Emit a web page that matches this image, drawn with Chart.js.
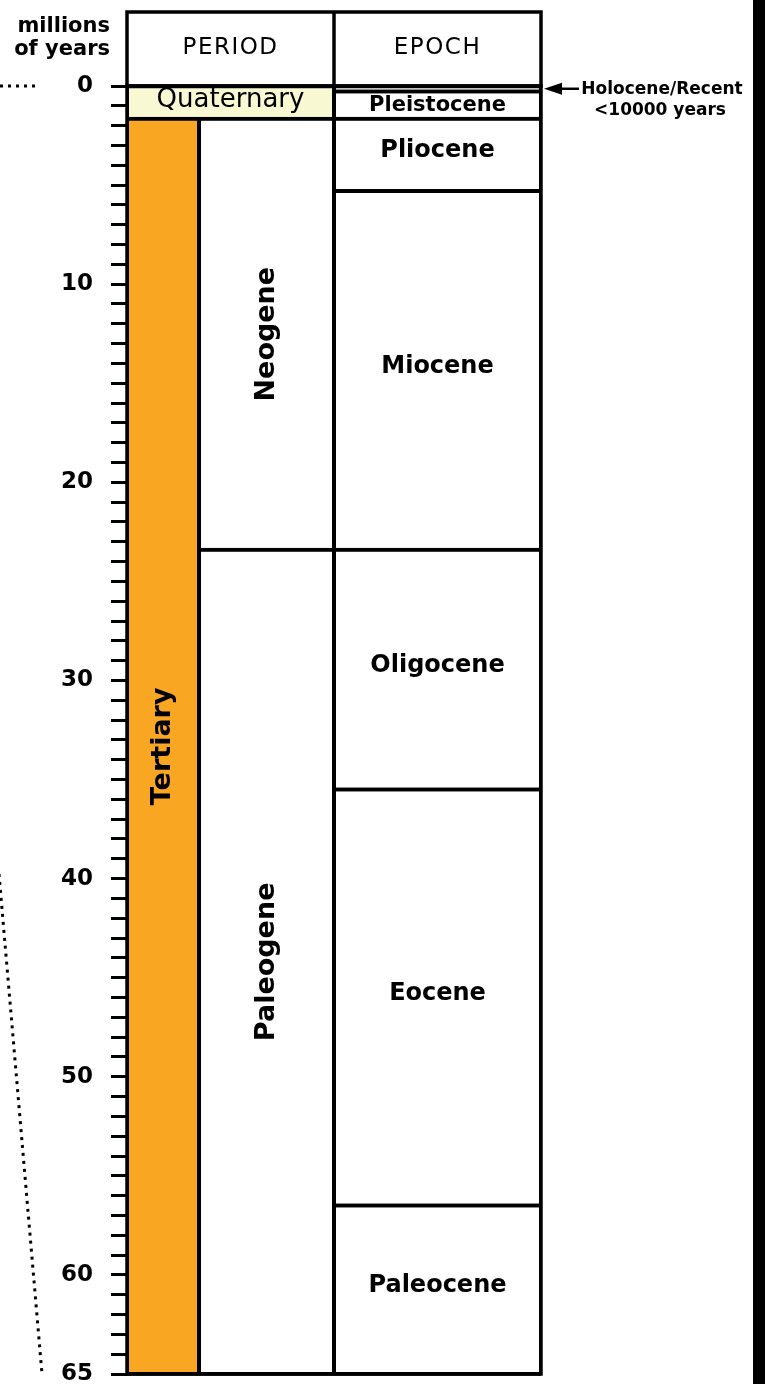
<!DOCTYPE html>
<html>
<head>
<meta charset="utf-8">
<title>Cenozoic time scale</title>
<script src="https://cdn.jsdelivr.net/npm/chart.js@4.4.1/dist/chart.umd.min.js"></script>
<style>
  html, body { margin: 0; padding: 0; background: #fff; }
  #timeChart { display: block; }
</style>
</head>
<body>
<canvas id="timeChart" width="765" height="1384"></canvas>
<script>
// ages in millions of years before present

const periodNames = ["Quaternary", "Tertiary"];
const periodStart = [0, 1.65];
const periodEnd = [1.65, 65];

const subPeriodNames = ["Quaternary", "Neogene", "Paleogene"];
const subPeriodStart = [0, 1.65, 23.4];
const subPeriodEnd = [1.65, 23.4, 65];

const epochNames = ["Holocene", "Pleistocene", "Pliocene", "Miocene", "Oligocene", "Eocene", "Paleocene"];
const epochStart = [0, 0.28, 1.65, 5.3, 23.4, 35.5, 56.5];
const epochEnd = [0.28, 1.65, 5.3, 23.4, 35.5, 56.5, 65];

const labelledTicks = [0, 10, 20, 30, 40, 50, 60, 65];
const columnHeaders = ["PERIOD", "EPOCH"];
const axisTitle = ["millions", "of years"];
const holoceneNote = ["Holocene/Recent", "<10000 years"];

const FONT = "'DejaVu Sans', sans-serif";
const fillColors = { Quaternary: "#f8f8d2", Tertiary: "#f9a623" };

function toBoxes(names, starts, ends) {
    return names.map((name, i) => ({ x: "col", y: [starts[i], ends[i]], name: name }));
}

// one dataset per column, bars float between start and end age
function columnDataset(label, axisId, data, skipSide) {
    return {
        label: label,
        xAxisID: axisId,
        data: data,
        grouped: false,
        backgroundColor: ctx => (ctx.raw && fillColors[ctx.raw.name]) || "#ffffff",
        borderColor: "#000",
        borderWidth: 2,
        borderSkipped: ctx => (skipSide && ctx.raw && ctx.raw.name === "Quaternary") ? skipSide : false,
        barPercentage: 1,
        categoryPercentage: 1,
        inflateAmount: 0
    };
}

function barBox(bar) {
    const p = bar.getProps(["x", "y", "base", "width"], true);
    return {
        left: p.x - p.width / 2,
        right: p.x + p.width / 2,
        top: Math.min(p.y, p.base),
        bottom: Math.max(p.y, p.base)
    };
}

function drawUpright(ctx, text, x, y, font) {
    ctx.save();
    ctx.translate(x, y);
    ctx.rotate(-Math.PI / 2);
    ctx.font = font;
    ctx.fillText(text, 0, 0);
    ctx.restore();
}

/* ===================== DECORATION PLUGIN ===================== */
const timeScaleDecor = {
    id: "timeScaleDecor",
    beforeDraw(chart) {
        const ctx = chart.ctx;
        ctx.save();
        ctx.fillStyle = "#fff";
        ctx.fillRect(0, 0, chart.width, chart.height);
        ctx.fillStyle = "#000";
        ctx.fillRect(chart.width - 12, 0, 12, chart.height);
        ctx.restore();
    },
    afterDatasetsDraw(chart) {
        const ctx = chart.ctx;
        const area = chart.chartArea;
        const periodMeta = chart.getDatasetMeta(0);
        const subMeta = chart.getDatasetMeta(1);
        const epochMeta = chart.getDatasetMeta(2);

        ctx.save();
        // solid boundary lines under each box (hides antialias seams)
        ctx.strokeStyle = "#000";
        ctx.lineWidth = 3.5;
        [periodMeta, subMeta, epochMeta].forEach(meta => {
            meta.data.forEach(bar => {
                const b = barBox(bar);
                ctx.beginPath();
                ctx.moveTo(b.left, b.bottom);
                ctx.lineTo(b.right, b.bottom);
                ctx.stroke();
            });
        });

        ctx.fillStyle = "#000";
        ctx.textAlign = "center";
        ctx.textBaseline = "middle";

        periodMeta.data.forEach((bar, i) => {
            if (periodNames[i] === "Quaternary") return;
            const b = barBox(bar);
            drawUpright(ctx, periodNames[i], (b.left + b.right) / 2, (b.top + b.bottom) / 2, "bold 27px " + FONT);
        });

        subMeta.data.forEach((bar, i) => {
            const b = barBox(bar);
            if (subPeriodNames[i] === "Quaternary") {
                // spans both period columns
                const q = barBox(periodMeta.data[periodNames.indexOf("Quaternary")]);
                ctx.font = "26px " + FONT;
                ctx.fillText(subPeriodNames[i], (q.left + b.right) / 2, (b.top + b.bottom) / 2 - 2);
                return;
            }
            drawUpright(ctx, subPeriodNames[i], (b.left + b.right) / 2, (b.top + b.bottom) / 2, "bold 27px " + FONT);
        });

        epochMeta.data.forEach((bar, i) => {
            const b = barBox(bar);
            const h = b.bottom - b.top;
            if (h < 14) return; // Holocene band is too thin, noted outside
            const small = h < 40;
            ctx.font = (small ? "bold 21px " : "bold 24px ") + FONT;
            ctx.fillText(epochNames[i], (b.left + b.right) / 2, (b.top + b.bottom) / 2 - (small ? 0 : 4));
        });

        ctx.lineWidth = 3.5;
        ctx.strokeRect(area.left, area.top, area.right - area.left, area.bottom - area.top);
        ctx.restore();
    },
    afterDraw(chart) {
        const ctx = chart.ctx;
        const area = chart.chartArea;
        const split = chart.scales.xEpoch.left;
        const headTop = 12;
        const y = chart.scales.y;

        ctx.save();
        ctx.strokeStyle = "#000";
        ctx.fillStyle = "#000";
        ctx.lineWidth = 3.5;

        // header box
        ctx.strokeRect(area.left, headTop, area.right - area.left, area.top - headTop);
        ctx.beginPath();
        ctx.moveTo(split, headTop);
        ctx.lineTo(split, area.top);
        ctx.stroke();

        ctx.textAlign = "center";
        ctx.textBaseline = "middle";
        ctx.font = "23px " + FONT;
        ctx.letterSpacing = "1.5px";
        ctx.fillText(columnHeaders[0], (area.left + split) / 2, 48);
        ctx.fillText(columnHeaders[1], (split + area.right) / 2, 48);
        ctx.letterSpacing = "0px";

        // axis title
        ctx.textAlign = "right";
        ctx.textBaseline = "alphabetic";
        ctx.font = "bold 21px " + FONT;
        ctx.fillText(axisTitle[0], 110, 32);
        ctx.fillText(axisTitle[1], 110, 55);

        // holocene arrow + note
        const hy = (y.getPixelForValue(epochStart[0]) + y.getPixelForValue(epochEnd[0])) / 2;
        const tip = area.right + 3;
        ctx.beginPath();
        ctx.moveTo(tip, hy);
        ctx.lineTo(tip + 18, hy - 6);
        ctx.lineTo(tip + 18, hy + 6);
        ctx.closePath();
        ctx.fill();
        ctx.lineWidth = 2.5;
        ctx.beginPath();
        ctx.moveTo(tip + 12, hy);
        ctx.lineTo(tip + 35, hy);
        ctx.stroke();

        ctx.textAlign = "center";
        ctx.font = "bold 17px " + FONT;
        ctx.fillText(holoceneNote[0], 662, 94);
        ctx.fillText(holoceneNote[1], 660, 115);

        // dotted leader lines on the far left
        ctx.setLineDash([3, 5]);
        ctx.lineWidth = 3;
        ctx.beginPath();
        ctx.moveTo(0, area.top);
        ctx.lineTo(40, area.top);
        ctx.stroke();
        ctx.beginPath();
        ctx.moveTo(-1, 874);
        ctx.lineTo(42, area.bottom);
        ctx.stroke();
        ctx.restore();
    }
};

/* ===================== CHART ===================== */
function renderTimeScale() {
    const ctx = document.getElementById("timeChart").getContext("2d");

    const columnAxis = (weight) => ({
        type: "category",
        labels: ["col"],
        position: "bottom",
        stack: "columns",
        stackWeight: weight,
        display: false,
        offset: true
    });

    new Chart(ctx, {
        type: "bar",
        data: {
            datasets: [
                columnDataset("Period", "xPeriod", toBoxes(periodNames, periodStart, periodEnd), "right"),
                columnDataset("Sub-period", "xSub", toBoxes(subPeriodNames, subPeriodStart, subPeriodEnd), "left"),
                columnDataset("Epoch", "xEpoch", toBoxes(epochNames, epochStart, epochEnd), null)
            ]
        },
        options: {
            responsive: false,
            animation: false,
            devicePixelRatio: 1,
            layout: { padding: { top: 86, right: 224, bottom: 10, left: 0 } },
            plugins: {
                legend: { display: false },
                tooltip: { enabled: false }
            },
            scales: {
                xPeriod: columnAxis(72),
                xSub: columnAxis(135),
                xEpoch: columnAxis(207),
                y: {
                    type: "linear",
                    reverse: true,
                    min: 0,
                    max: 65,
                    position: "left",
                    border: { display: false },
                    grid: {
                        drawOnChartArea: false,
                        drawTicks: true,
                        tickLength: 16,
                        tickWidth: 3,
                        tickColor: "#000"
                    },
                    ticks: {
                        stepSize: 1,
                        autoSkip: false,
                        padding: 18,
                        color: "#000",
                        font: { family: "DejaVu Sans", size: 23, weight: "bold" },
                        callback: v => labelledTicks.includes(v) ? String(v) : ""
                    },
                    afterFit: scale => {
                        scale.width = 127;
                        scale.paddingTop = 0;
                        scale.paddingBottom = 0;
                    }
                }
            }
        },
        plugins: [timeScaleDecor]
    });
}

renderTimeScale();
</script>
</body>
</html>
